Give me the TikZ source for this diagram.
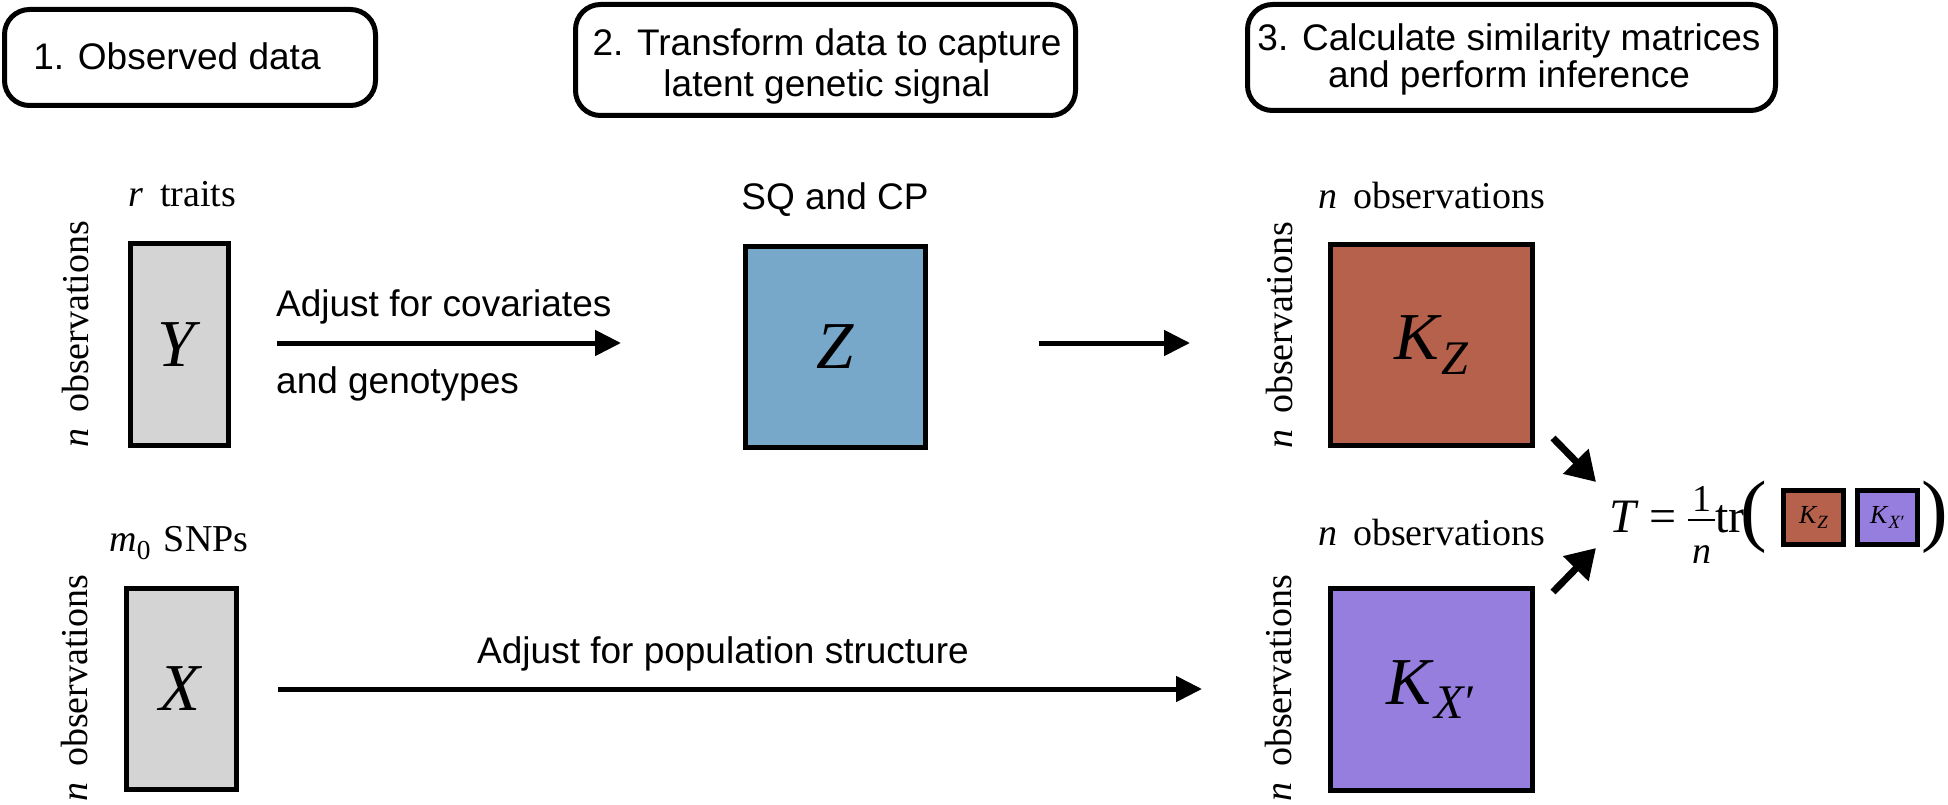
\documentclass[tikz,border=0pt]{standalone}
\usepackage{fontspec}
\setmainfont{Liberation Serif}
\setsansfont{Liberation Sans}
\usetikzlibrary{arrows.meta,calc}
\definecolor{mgray}{HTML}{D4D4D4}
\definecolor{mblue}{HTML}{78A8C9}
\definecolor{mbrown}{HTML}{B5614C}
\definecolor{mpurple}{HTML}{967EDE}
\newcommand{\lsub}[1]{\raisebox{-0.22em}{\scalebox{0.72}{#1}}}
\begin{document}
\begin{tikzpicture}[x=1pt,y=-1pt,
  hdrbox/.style={draw, line width=5pt, rounded corners=25pt, inner sep=0pt},
  hdrtext/.style={font=\sffamily\fontsize{37}{41}\selectfont, inner sep=0pt, align=center},
  lbl/.style={font=\sffamily\fontsize{37}{44}\selectfont, inner sep=0pt},
  serif/.style={font=\rmfamily\fontsize{38}{44}\selectfont, inner sep=0pt},
  matbox/.style={draw, line width=5pt, inner sep=0pt, font=\rmfamily\fontsize{67}{80}\selectfont},
  smallbox/.style={draw, line width=5pt, inner sep=0pt, minimum width=60pt, minimum height=54pt, font=\rmfamily\fontsize{26}{30}\selectfont},
  frm/.style={inner sep=0pt, font=\rmfamily\fontsize{48}{56}\selectfont},
  frsm/.style={inner sep=0pt, font=\rmfamily\fontsize{38}{44}\selectfont},
  arr/.style={line width=5pt, -{Triangle[length=26pt,width=25pt]}},
  darr/.style={line width=7pt, -{Triangle[length=29pt,width=34pt]}},
]
\useasboundingbox (0,0) rectangle (1948,805);

% header boxes
\node[hdrbox, minimum width=371pt, minimum height=96pt] (h1) at (190,57.5) {};
\node[hdrtext, anchor=base] (t1) at (177,70) {1. Observed data};
\node[hdrbox, minimum width=500pt, minimum height=111pt] (h2) at (825.5,60) {};
\node[hdrtext, anchor=north] (t2) at (827,28) {2. Transform data to capture\\latent genetic signal};
\node[hdrbox, minimum width=528pt, minimum height=106pt] (h3) at (1511.5,57.5) {};
\node[hdrtext, anchor=north, font=\sffamily\fontsize{37}{37}\selectfont] (t3) at (1509,23.5) {3. Calculate similarity matrices\\and perform inference};

% matrices
\node[matbox, fill=mgray, minimum width=98pt, minimum height=202pt] (Y) at (179.5,344.5) {\textit{Y}};
\node[matbox, fill=mblue, minimum width=180pt, minimum height=201pt] (Z) at (835.5,347) {\textit{Z}};
\node[matbox, fill=mbrown, minimum width=202pt, minimum height=201pt] (KZ) at (1431.5,345) {\textit{K}\lsub{\textit{Z}}};
\node[matbox, fill=mgray, minimum width=110pt, minimum height=201pt] (X) at (181.5,689) {\textit{X}};
\node[matbox, fill=mpurple, minimum width=202pt, minimum height=202pt] (KX) at (1431.5,689.5) {\textit{K}\lsub{\textit{X}′}};

% labels above
\node[serif, anchor=base] (rl) at (182,207) {\textit{r}\hspace{0.45em}traits};
\node[lbl, anchor=base] (sq) at (835,210) {SQ and CP};
\node[serif, anchor=base] (nkz) at (1432,208) {\textit{n}\hspace{0.4em}observations};
\node[serif, anchor=base] (ml) at (179,551) {\textit{m}\lsub{0}\hspace{0.35em}SNPs};
\node[serif, anchor=base] (nkx) at (1432,545) {\textit{n}\hspace{0.4em}observations};

% rotated labels
\node[serif, rotate=90, anchor=base] (ny) at (88,334) {\textit{n}\hspace{0.4em}observations};
\node[serif, rotate=90, anchor=base] (nkzr) at (1292,335) {\textit{n}\hspace{0.4em}observations};
\node[serif, rotate=90, anchor=base] (nx) at (87,688) {\textit{n}\hspace{0.4em}observations};
\node[serif, rotate=90, anchor=base] (nkxr) at (1291,688) {\textit{n}\hspace{0.4em}observations};

% arrows
\coordinate (a1s) at (277,343);
\coordinate (a1e) at (621,343);
\coordinate (a2s) at (1039,343);
\coordinate (a2e) at (1190,343);
\coordinate (a3s) at (278,689);
\coordinate (a3e) at (1202,689);
\draw[arr] (a1s) -- (a1e);
\draw[arr] (a2s) -- (a2e);
\draw[arr] (a3s) -- (a3e);
\node[lbl, anchor=base west] (c1) at (276,316) {Adjust for covariates};
\node[lbl, anchor=base west] (c2) at (276,393) {and genotypes};
\node[lbl, anchor=base] (c3) at (723,663) {Adjust for population structure};

% formula
\coordinate (d1s) at (1553,438);
\coordinate (d1e) at (1596,482);
\coordinate (d2s) at (1553,592);
\coordinate (d2e) at (1596,548);
\draw[darr] (d1s) -- (d1e);
\draw[darr] (d2s) -- (d2e);
\node[frm, anchor=base west] (T) at (1609,532) {\textit{T}\hspace{11pt}=};
\node[frsm, anchor=base] (num) at (1701.5,511) {1};
\coordinate (barl) at (1688,520);
\coordinate (barr) at (1715,520);
\draw[line width=2.6pt] (barl) -- (barr);
\node[frsm, anchor=base] (den) at (1701.5,563) {\textit{n}};
\node[frm, anchor=base west] (tr) at (1715,532) {tr};
\node[inner sep=0pt, anchor=base west, font=\rmfamily\fontsize{80}{90}\selectfont] (lp) at (1740,536) {(};
\node[smallbox, fill=mbrown] (KZs) at (1813.5,517.5) {\textit{K}\lsub{\textit{Z}}};
\node[smallbox, fill=mpurple] (KXs) at (1887.5,517.5) {\textit{K}\lsub{\textit{X}′}};
\node[inner sep=0pt, anchor=base west, font=\rmfamily\fontsize{80}{90}\selectfont] (rp) at (1921,536) {)};
\end{tikzpicture}
\end{document}
